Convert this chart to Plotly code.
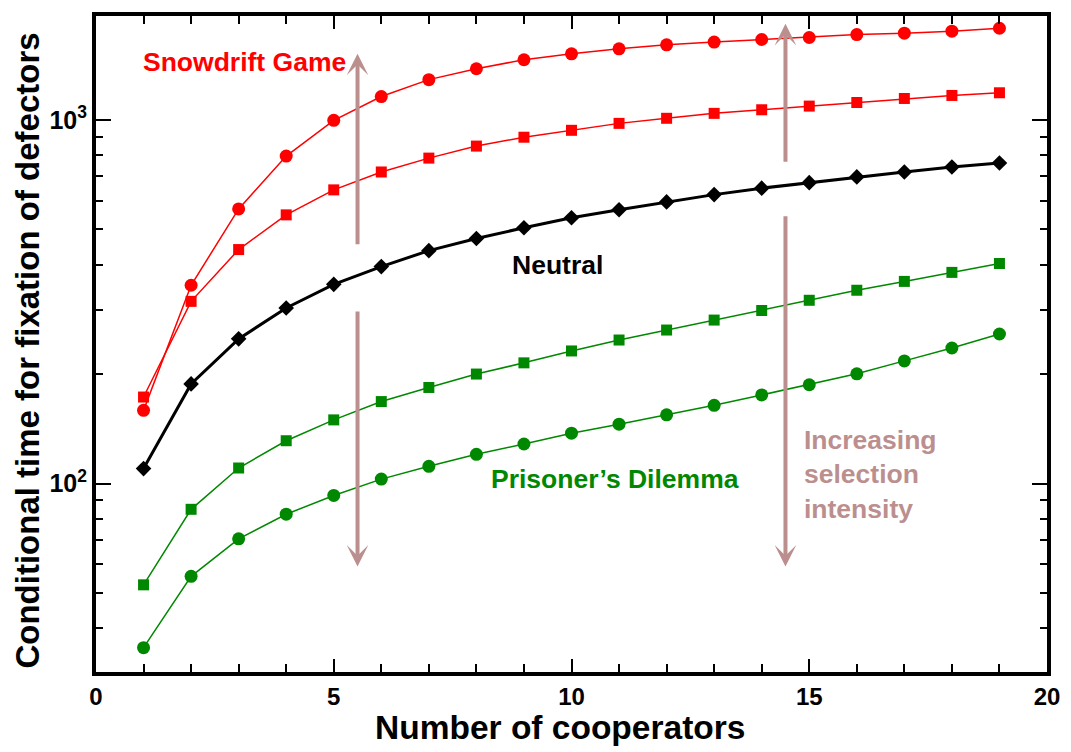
import plotly.graph_objects as go

# ---------------- data ----------------
cooperators = list(range(1, 20))

snowdrift_strong = [159, 351, 569, 795, 997, 1159, 1290, 1382, 1463, 1519, 1568, 1608,
                    1636, 1663, 1684, 1716, 1731, 1753, 1786]
snowdrift_weak = [173, 317, 440, 548, 642, 719, 785, 847, 896, 936, 978, 1010,
                  1042, 1066, 1091, 1116, 1145, 1167, 1187]
neutral = [110, 188, 250, 304, 353, 395, 437, 472, 505, 538, 566, 595,
           623, 649, 672, 697, 719, 742, 761]
pd_weak = [52.7, 85.0, 110.4, 131.2, 149.7, 168.1, 183.8, 200.1, 214.8, 231.6, 248.2, 264.4,
           281.6, 299.2, 319.2, 340.1, 359.7, 380.8, 402.9]
pd_strong = [35.4, 55.6, 70.5, 82.4, 92.8, 102.9, 111.6, 120.4, 128.5, 137.6, 145.7, 154.6,
             164.2, 175.3, 187.0, 200.4, 217.5, 236.0, 257.8]

y_major_vals = [100, 1000]
y_major_text = ["10<sup>2</sup>", "10<sup>3</sup>"]
y_minor_vals = [40, 50, 60, 70, 80, 90, 200, 300, 400, 500, 600, 700, 800, 900]
x_major_vals = [0, 5, 10, 15, 20]

x_title = "Number of cooperators"
y_title = "Conditional time for fixation of defectors"

RED = "#ff0000"
GREEN = "#008800"
BLACK = "#000000"
ARROW = "#bc8f8f"
FONT = "Liberation Sans"

fig = go.Figure()

def add(y, color, symbol, size, lw):
    fig.add_trace(go.Scatter(
        x=cooperators, y=y, mode="lines+markers",
        line=dict(color=color, width=lw),
        marker=dict(symbol=symbol, size=size, color=color),
        showlegend=False))

add(snowdrift_strong, RED, "circle", 13, 1.5)
add(snowdrift_weak, RED, "square", 11, 1.5)
add(neutral, BLACK, "diamond", 12, 3)
add(pd_weak, GREEN, "square", 11, 1.5)
add(pd_strong, GREEN, "circle", 13, 1.5)

annotations = []
def arrow(x, y_head, y_tail):
    annotations.append(dict(
        x=x, y=y_head, ax=x, ay=y_tail, xref="x", yref="y", axref="x", ayref="y",
        text="", showarrow=True, arrowhead=3, arrowsize=0.9, arrowwidth=4,
        arrowcolor=ARROW, standoff=0))

arrow(5.5, 3.182, 2.654)
arrow(5.5, 1.772, 2.477)
arrow(14.5, 3.264, 2.881)
arrow(14.5, 1.772, 2.739)

def label(text, x, y, color, xanchor="center", align="center"):
    annotations.append(dict(
        x=x, y=y, xref="x", yref="y", text=text, showarrow=False,
        xanchor=xanchor, yanchor="middle", align=align,
        font=dict(family=FONT, size=26.5, color=color, weight="bold")))

label("Snowdrift Game", 3.13, 3.160, RED)
label("Neutral", 9.70, 2.600, BLACK)
label("Prisoner\u2019s Dilemma", 10.91, 2.012, GREEN)
label("Increasing<br>selection<br>intensity", 14.84, 2.026, ARROW, xanchor="left", align="left")

# axis titles
annotations.append(dict(
    text=x_title, xref="paper", yref="paper", x=0.488, y=-0.0848,
    xanchor="center", yanchor="middle", showarrow=False,
    font=dict(family=FONT, size=33.5, color="black", weight="bold")))
annotations.append(dict(
    text=y_title, xref="paper", yref="paper", x=-0.0715, y=0.49,
    xanchor="center", yanchor="middle", showarrow=False, textangle=-90,
    font=dict(family=FONT, size=33, color="black", weight="bold")))

fig.update_layout(
    width=1071, height=752,
    margin=dict(l=88, r=32, t=4, b=88),
    paper_bgcolor="white", plot_bgcolor="white",
    annotations=annotations,
    font=dict(family=FONT, color="black"),
    xaxis=dict(
        range=[0, 20], tickmode="array", tickvals=x_major_vals,
        ticks="inside", ticklen=13, tickwidth=2, tickcolor="black",
        minor=dict(dtick=1, tick0=0, ticks="inside", ticklen=8, tickwidth=1.5, tickcolor="black"),
        showline=True, linewidth=4, linecolor="black", mirror="allticks",
        showgrid=False, zeroline=False,
        tickfont=dict(family=FONT, size=24, weight="bold"),
    ),
    yaxis=dict(
        type="log", range=[1.4822, 3.2855], tickmode="array",
        tickvals=y_major_vals, ticktext=y_major_text,
        ticks="inside", ticklen=15, tickwidth=2, tickcolor="black",
        minor=dict(tickmode="array", tickvals=y_minor_vals, ticks="inside",
                   ticklen=7, tickwidth=1.5, tickcolor="black"),
        showline=True, linewidth=4, linecolor="black", mirror="allticks",
        showgrid=False, zeroline=False,
        tickfont=dict(family=FONT, size=25, weight="bold"),
    ),
)

fig.write_html("out.html")
